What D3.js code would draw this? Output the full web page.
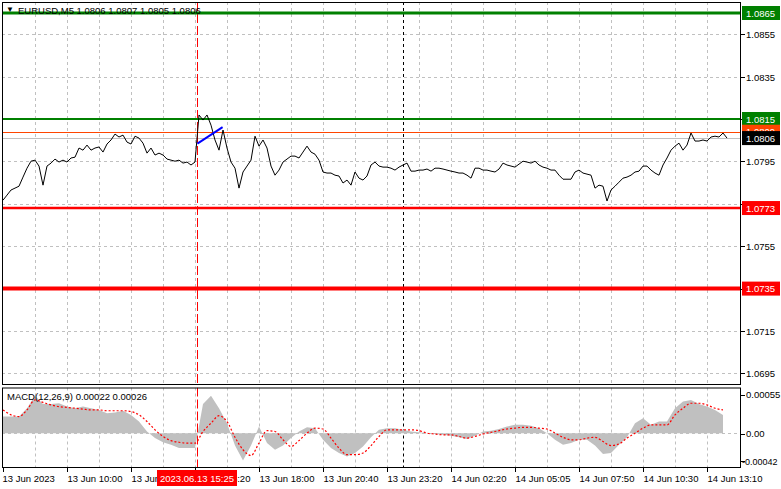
<!DOCTYPE html>
<html><head><meta charset="utf-8">
<script src="https://cdn.jsdelivr.net/npm/d3@7/dist/d3.min.js"></script>
<style>
html,body{margin:0;padding:0;background:#fff;}
svg{display:block;font-family:"Liberation Sans",Arial,sans-serif;}
</style></head>
<body><svg id="c" width="781" height="489"></svg>
<script>
// ---------- DATA ----------
const symbolTitle = "EURUSD,M5  1.0806 1.0807 1.0805 1.0806";
const macdTitle = "MACD(12,26,9) 0.00022 0.00026";
// close prices, one value every 10 minutes (2 bars of M5)
const closes = [
1.07767,1.07791,1.07815,1.07824,1.07833,1.07876,1.07918,1.07951,1.07956,1.07928,
1.07838,1.07928,1.07942,1.07961,1.07947,1.07956,1.07947,1.07966,1.07970,1.08013,
1.08003,1.08027,1.08003,1.08013,1.08018,1.07994,1.08032,1.08051,1.08079,1.08065,
1.08074,1.08041,1.08032,1.08069,1.08060,1.08036,1.07989,1.08013,1.07980,1.07989,
1.07980,1.07961,1.07956,1.07951,1.07956,1.07942,1.07947,1.07933,1.07947,1.08169,
1.08145,1.08169,1.08121,1.08051,1.08003,1.08098,1.08013,1.07947,1.07918,1.07824,
1.07900,1.07928,1.07956,1.08069,1.08022,1.08051,1.08013,1.07928,1.07885,1.07909,
1.07947,1.07961,1.07975,1.07975,1.07966,1.07994,1.08022,1.07994,1.07984,1.07956,
1.07900,1.07895,1.07895,1.07885,1.07881,1.07848,1.07862,1.07838,1.07900,1.07871,
1.07862,1.07881,1.07933,1.07947,1.07928,1.07923,1.07923,1.07918,1.07909,1.07923,
1.07933,1.07942,1.07904,1.07904,1.07909,1.07909,1.07914,1.07904,1.07918,1.07918,
1.07914,1.07909,1.07904,1.07900,1.07895,1.07895,1.07885,1.07871,1.07918,1.07918,
1.07909,1.07909,1.07904,1.07900,1.07914,1.07942,1.07933,1.07928,1.07923,1.07937,
1.07951,1.07947,1.07942,1.07951,1.07933,1.07923,1.07918,1.07909,1.07909,1.07885,
1.07866,1.07866,1.07866,1.07900,1.07909,1.07895,1.07890,1.07885,1.07824,1.07838,
1.07833,1.07763,1.07815,1.07833,1.07852,1.07871,1.07876,1.07885,1.07900,1.07904,
1.07928,1.07928,1.07909,1.07895,1.07885,1.07933,1.07966,1.08003,1.08022,1.08036,
1.08003,1.08027,1.08084,1.08046,1.08046,1.08051,1.08046,1.08065,1.08069,1.08065,
1.08084,1.08060
];
// MACD histogram and signal, one value every 20 minutes (x1e-5)
const macdHist = [
20,20,20,30,45,35,35,36,32,30,32,30,28,24,25,27,22,14,2,-6,
-11,-14,-18,-18,-18,35,45,30,12,-15,-33,-15,8,-12,-20,-15,-6,2,7,6,
-8,-18,-24,-28,-24,-16,-5,4,6,6,4,2,1,0,-1,-2,-3,-5,-7,-3,
2,3,5,8,10,10,9,6,0,-8,-14,-12,-8,-8,-15,-25,-24,-14,-5,12,
18,10,14,14,30,38,40,35,32,28,22
];
const macdSignal = [
28,22,20,28,40,37,34,32,31,30,29,28,28,27,27,27,26,22,14,4,
-4,-9,-11,-12,-12,2,12,21,14,-5,-20,-27,-12,3,2,-8,-16,-9,0,6,
5,-6,-18,-26,-26,-24,-15,-4,4,4,4,4,3,0,-1,-2,-2,-4,-6,-4,
-1,1,3,5,6,7,7,6,5,0,-5,-8,-8,-6,-5,-10,-15,-13,-6,0,
6,10,10,10,22,30,36,36,34,30,28
];
const priceTicks = [1.0855,1.0835,1.0815,1.0795,1.0775,1.0755,1.0735,1.0715,1.0695];
const macdTickLabels = ["0.00055","0.00","-0.00042"];
const macdTickValues = [0.00055,0.0,-0.00042];
const timeLabels = ["13 Jun 2023","13 Jun 10:00","13 Jun 12:40","13 Jun 15:20","13 Jun 18:00","13 Jun 20:40","13 Jun 23:20","14 Jun 02:20","14 Jun 05:05","14 Jun 07:50","14 Jun 10:30","14 Jun 13:10"];
const timeLabelIdx = [0,16,32,48,64,80,96,112,128,144,160,176];
const levelPrices = [1.0865,1.0815,1.0773,1.0735];
const levelKinds = ["green3","green2","red2","red4"];
const askPrice = 1.0809;
const lastPrice = 1.0806;
const markerIdx = 48.5, markerLabel = "2023.06.13 15:25";
const crossIdx = 100;
const trendIdx = [48.6, 54.9];
const trendPrice = [1.08034, 1.08112];

// ---------- LAYOUT ----------
const svg = d3.select("#c");
const L = 2, R = 741, T = 2, B = 385, MT = 387.5, MB = 468;
const x = d3.scaleLinear().domain([0, closes.length-1]).range([3, 727]);
const y = d3.scaleLinear().domain([1.0695, 1.0865]).range([373.4, 13]);
const ym = d3.scaleLinear().domain([-0.00042, 0.00055]).range([MB, MT]);
const gridCol = "#c0c0c0";
const styles = {
  green3:{c:"#008000",w:3}, green2:{c:"#008000",w:2}, red2:{c:"#ff0000",w:2.5}, red4:{c:"#ff0000",w:4}
};

svg.append("defs").html(`<clipPath id="cm"><rect x="${L}" y="${T}" width="${R-L}" height="${B-T}"/></clipPath>
<clipPath id="cd"><rect x="${L}" y="${MT}" width="${R-L}" height="${MB-MT}"/></clipPath>`);

const main = svg.append("g").attr("clip-path","url(#cm)");
const sub = svg.append("g").attr("clip-path","url(#cd)");

// vertical grid
const vgrid = d3.range(8, closes.length, 8);
[[main,T,B],[sub,MT,MB]].forEach(([g,a,b])=>{
  g.selectAll(null).data(vgrid).join("line")
   .attr("x1",d=>Math.round(x(d))+0.5).attr("x2",d=>Math.round(x(d))+0.5)
   .attr("y1",a).attr("y2",b).attr("stroke",gridCol).attr("stroke-dasharray","3,3");
});
// horizontal grid
main.selectAll(null).data(priceTicks).join("line")
  .attr("x1",L).attr("x2",R).attr("y1",d=>Math.round(y(d))+0.5).attr("y2",d=>Math.round(y(d))+0.5)
  .attr("stroke",gridCol).attr("stroke-dasharray","3,3");

// current price line
main.append("line").attr("x1",L).attr("x2",R).attr("y1",Math.round(y(lastPrice))+0.5).attr("y2",Math.round(y(lastPrice))+0.5)
  .attr("stroke","#c0c0c0");
// ask line
main.append("line").attr("x1",L).attr("x2",R).attr("y1",Math.round(y(askPrice))+0.5).attr("y2",Math.round(y(askPrice))+0.5)
  .attr("stroke","#ff4500");

// vertical markers
[[main,T,B],[sub,MT,MB]].forEach(([g,a,b])=>{
  g.append("line").attr("x1",Math.round(x(markerIdx))+0.5).attr("x2",Math.round(x(markerIdx))+0.5)
   .attr("y1",a).attr("y2",b).attr("stroke","#ff0000").attr("stroke-dasharray","9,3");
  g.append("line").attr("x1",Math.round(x(crossIdx))+0.5).attr("x2",Math.round(x(crossIdx))+0.5)
   .attr("y1",a).attr("y2",b).attr("stroke","#000").attr("stroke-dasharray","3,3");
});

// title
svg.append("text").attr("x",6).attr("y",12).attr("font-size",8).attr("fill","#000").text("▼");
svg.append("text").attr("x",18).attr("y",14).attr("font-size",9.5).attr("fill","#000").text(symbolTitle);

// levels
levelPrices.forEach((p,i)=>{
  const s = styles[levelKinds[i]];
  main.append("line").attr("x1",L).attr("x2",R).attr("y1",y(p)).attr("y2",y(p))
    .attr("stroke",s.c).attr("stroke-width",s.w);
});

// price line
main.append("path").datum(closes)
  .attr("d", d3.line().x((d,i)=>x(i)).y(d=>y(d)))
  .attr("fill","none").attr("stroke","#000").attr("stroke-width",1);

// trend line
main.append("line").attr("x1",x(trendIdx[0])).attr("x2",x(trendIdx[1]))
  .attr("y1",y(trendPrice[0])).attr("y2",y(trendPrice[1]))
  .attr("stroke","#0000ff").attr("stroke-width",2);

// MACD histogram (drawn as filled profile)
sub.append("path").datum(macdHist)
  .attr("d", d3.area().x((d,i)=>x(2*i)).y0(ym(0)).y1(d=>ym(d*1e-5)))
  .attr("fill","#c0c0c0");
// zero line
sub.append("line").attr("x1",L).attr("x2",R).attr("y1",Math.round(ym(0))+0.5).attr("y2",Math.round(ym(0))+0.5)
  .attr("stroke",gridCol).attr("stroke-dasharray","3,3");
// signal
sub.append("path").datum(macdSignal)
  .attr("d", d3.line().x((d,i)=>x(2*i)).y(d=>ym(d*1e-5)).curve(d3.curveMonotoneX))
  .attr("fill","none").attr("stroke","#ff0000").attr("stroke-width",1.2).attr("stroke-dasharray","2,2");
svg.append("text").attr("x",7).attr("y",400).attr("font-size",9.5).attr("fill","#000").text(macdTitle);

// frames
svg.append("rect").attr("x",L+0.5).attr("y",T+0.5).attr("width",R-L-1).attr("height",B-T-1).attr("fill","none").attr("stroke","#000");
svg.append("rect").attr("x",L+0.5).attr("y",MT+0.5).attr("width",R-L-1).attr("height",MB-MT-1).attr("fill","none").attr("stroke","#000");

// right axis ticks (main)
const ax = svg.append("g");
priceTicks.forEach(p=>{
  const yy = Math.round(y(p))+0.5;
  ax.append("line").attr("x1",R).attr("x2",R+4).attr("y1",yy).attr("y2",yy).attr("stroke","#000");
  ax.append("text").attr("x",R+5).attr("y",yy+3.5).attr("font-size",9.5).attr("fill","#000").text(p.toFixed(4));
});
macdTickValues.forEach((v,i)=>{
  const yy = i===0 ? ym(v)+7 : (i===2 ? ym(v)-7 : ym(v)+0.5);
  ax.append("line").attr("x1",R).attr("x2",R+4).attr("y1",Math.round(yy)+0.5).attr("y2",Math.round(yy)+0.5).attr("stroke","#000");
  ax.append("text").attr("x",i===2?R+1:R+5).attr("y",yy+3.5).attr("font-size",i===2?9:9.5).attr("fill","#000").text(macdTickLabels[i]);
});

// price label boxes
function priceBox(p, fill){
  const yy = y(p);
  ax.append("rect").attr("x",R+1).attr("y",yy-7).attr("width",38).attr("height",14).attr("fill",fill);
  ax.append("text").attr("x",R+5).attr("y",yy+3.5).attr("font-size",9.5).attr("fill","#fff").text(p.toFixed(4));
}
levelPrices.forEach((p,i)=>priceBox(p, styles[levelKinds[i]].c));
priceBox(askPrice, "#ff4500");
priceBox(lastPrice, "#000");

// bottom time axis
timeLabelIdx.forEach((k,i)=>{
  const xx = Math.round(x(k))+0.5;
  ax.append("line").attr("x1",xx).attr("x2",xx).attr("y1",MB).attr("y2",MB+4).attr("stroke","#000");
  ax.append("text").attr("x",xx+(i===0?-1:0)).attr("y",482).attr("font-size",9.5).attr("fill","#000").text(timeLabels[i]);
});
// marker label
const mx = x(markerIdx);
ax.append("rect").attr("x",mx-40).attr("y",470).attr("width",80).attr("height",16).attr("fill","#ff0000");
ax.append("text").attr("x",mx).attr("y",482).attr("text-anchor","middle").attr("font-size",9.5).attr("fill","#fff").text(markerLabel);
</script></body></html>
